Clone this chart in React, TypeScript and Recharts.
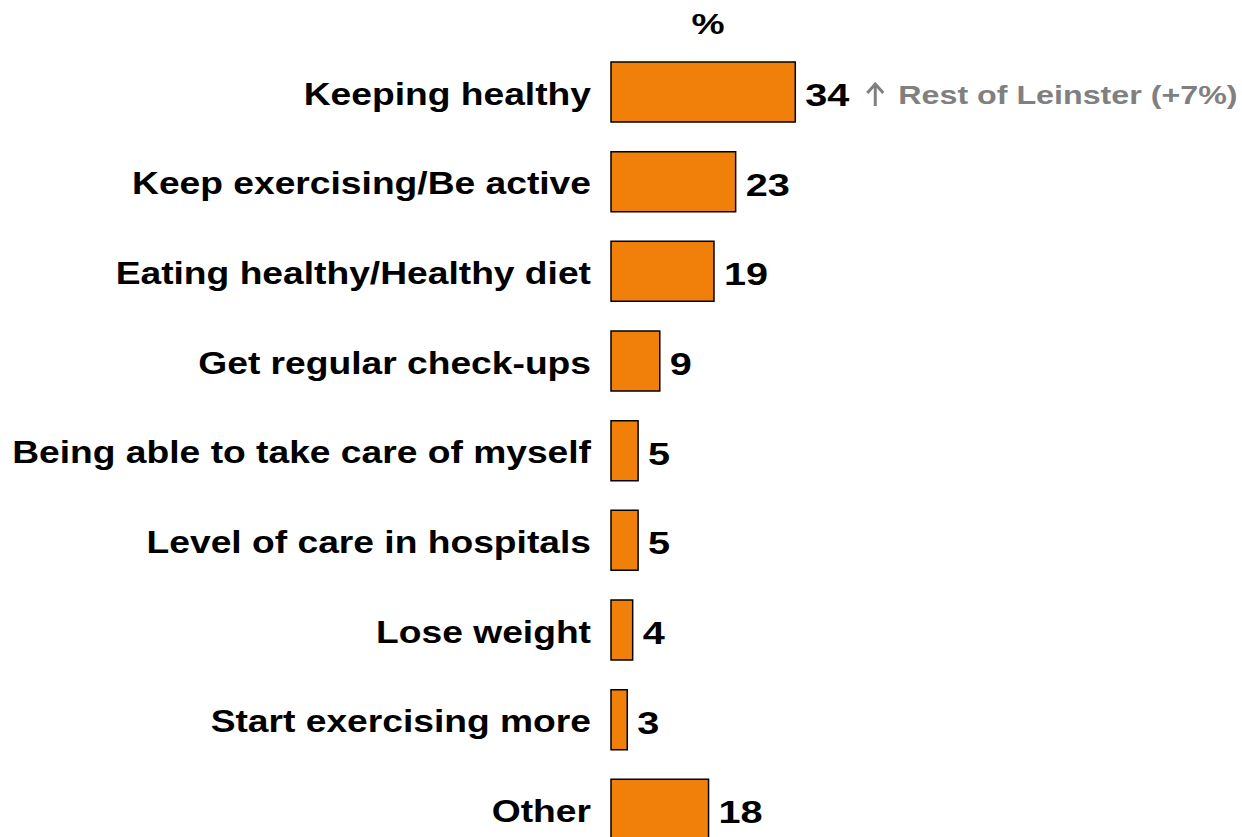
import { Bar, BarChart, LabelList, XAxis, YAxis } from 'recharts'

const categories = [
  'Keeping healthy',
  'Keep exercising/Be active',
  'Eating healthy/Healthy diet',
  'Get regular check-ups',
  'Being able to take care of myself',
  'Level of care in hospitals',
  'Lose weight',
  'Start exercising more',
  'Other',
]
const values = [34, 23, 19, 9, 5, 5, 4, 3, 18]
const notes = ['Rest of Leinster (+7%)', '', '', '', '', '', '', '', '']

const data = categories.map((name, i) => ({ name, value: values[i], note: notes[i] }))

const FONT = '"Liberation Sans", Arial, sans-serif'
// the source text is drawn a little wider than the font's natural width
const STRETCH = 1.2

function CategoryTick({ x, y, payload }: any) {
  return (
    <text
      transform={`translate(${x},${y + 2}) scale(${STRETCH},1)`}
      textAnchor='end'
      dominantBaseline='central'
      fontFamily={FONT}
      fontWeight='bold'
      fontSize={31}
      fill='#000'
    >
      {payload.value}
    </text>
  )
}

function ValueLabel({ x, y, width, height, value, index }: any) {
  const cy = y + height / 2 + 3
  const tx = x + width + 10
  const note = notes[index]
  return (
    <g>
      <text
        transform={`translate(${tx},${cy}) scale(1.24,1)`}
        dominantBaseline='central'
        fontFamily={FONT}
        fontWeight='bold'
        fontSize={32}
        fill='#000'
      >
        {value}
      </text>
      {note && (
        <g>
          <path
            d={`M${tx + 70},${cy + 11} V${cy - 10} M${tx + 62},${cy - 2} L${tx + 70},${cy - 11} L${tx + 78},${cy - 2}`}
            stroke='#808080'
            strokeWidth={3}
            fill='none'
          />
          <text
            transform={`translate(${tx + 93},${cy}) scale(1.24,1)`}
            dominantBaseline='central'
            fontFamily={FONT}
            fontWeight='bold'
            fontSize={26}
            fill='#808080'
          >
            {note}
          </text>
        </g>
      )}
    </g>
  )
}

export default function App() {
  return (
    <div style={{ position: 'fixed', left: 0, top: 0, width: 1242, height: 837, background: '#fff', overflow: 'hidden' }}>
      <div
        style={{
          position: 'absolute',
          left: 688,
          top: 7,
          width: 40,
          textAlign: 'center',
          fontFamily: FONT,
          fontWeight: 'bold',
          fontSize: 30,
          transform: 'scaleX(1.24)',
        }}
      >
        %
      </div>
      <BarChart
        width={1242}
        height={870}
        data={data}
        layout='vertical'
        margin={{ top: 47, right: 89, bottom: 16, left: 0 }}
      >
        <XAxis type='number' domain={[0, 100]} hide />
        <YAxis
          type='category'
          dataKey='name'
          width={611}
          axisLine={false}
          tickLine={false}
          tickSize={0}
          tickMargin={20}
          tick={<CategoryTick />}
          interval={0}
        />
        <Bar
          dataKey='value'
          fill='#F0800A'
          stroke='#000'
          strokeWidth={1.5}
          barSize={60}
          isAnimationActive={false}
        >
          <LabelList dataKey='value' content={<ValueLabel />} />
        </Bar>
      </BarChart>
    </div>
  )
}
